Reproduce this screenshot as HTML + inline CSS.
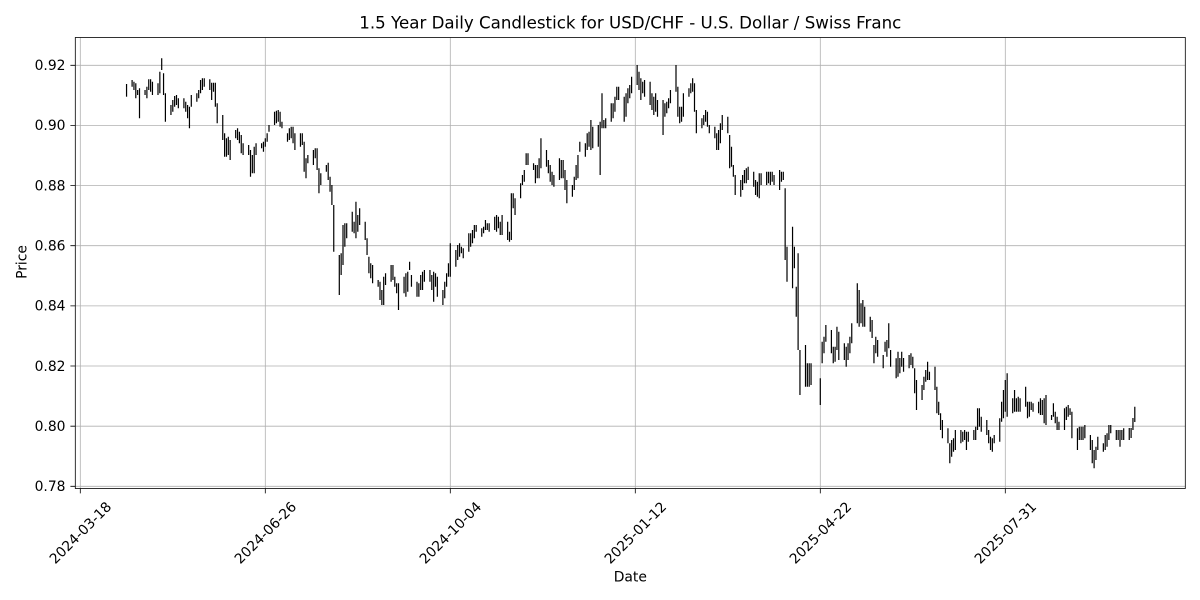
<!DOCTYPE html>
<html><head><meta charset="utf-8"><style>
html,body{margin:0;padding:0;background:#fff;}
svg{display:block;}
text{font-family:"DejaVu Sans","Liberation Sans",sans-serif;fill:#000;}
</style></head><body>
<svg width="1200" height="600" viewBox="0 0 1200 600" xmlns="http://www.w3.org/2000/svg">
<rect x="0" y="0" width="1200" height="600" fill="#fff"/>
<g stroke="#b0b0b0" stroke-width="0.8" fill="none">
<path d="M80.3 37.5V488.5M265.3 37.5V488.5M450.3 37.5V488.5M635.3 37.5V488.5M820.3 37.5V488.5M1005.3 37.5V488.5"/>
<path d="M75.3 486.3H1185.3M75.3 426.2H1185.3M75.3 366H1185.3M75.3 305.9H1185.3M75.3 245.7H1185.3M75.3 185.6H1185.3M75.3 125.4H1185.3M75.3 65.3H1185.3"/>
</g>
<g stroke="#000" stroke-width="1.2" fill="none">
<path transform="translate(119.15 0)" d="M7.4 84V96.7"/>
<path transform="translate(132.1 0)" d="M0 80V86.7M1.85 81.7V90M3.7 83.3V98.3M5.55 90V95M7.4 88.3V118.3"/>
<path transform="translate(145.05 0)" d="M0 90V95M1.85 86.7V98.3M3.7 79.3V90M5.55 79.3V91.7M7.4 81.7V95"/>
<path transform="translate(158 0)" d="M0 83.3V95M1.85 71.7V93.3M3.7 58.3V70M5.55 73.3V95M7.4 93.3V121.7"/>
<path transform="translate(170.95 0)" d="M0 105V115M1.85 100V111.7M3.7 96V106.7M5.55 95V105M7.4 98.3V108.3"/>
<path transform="translate(183.9 0)" d="M0 98.3V108.3M1.85 101.7V111.7M3.7 105V118.3M5.55 106.7V128.3M7.4 95V106.7"/>
<path transform="translate(196.85 0)" d="M0 93.3V101.7M1.85 90V98.3M3.7 80V93.3M5.55 78.3V90M7.4 78.3V86.7"/>
<path transform="translate(209.8 0)" d="M0 79.3V90M1.85 82.7V100M3.7 82.7V91.7M5.55 82.7V106.7M7.4 103.3V123.3"/>
<path transform="translate(222.75 0)" d="M0 115V140M1.85 133.3V156.7M3.7 138.3V156.7M5.55 136.7V155M7.4 140V160"/>
<path transform="translate(235.7 0)" d="M0 130V138.3M1.85 128.3V140M3.7 131.7V143.3M5.55 135V153.3M7.4 143.3V155"/>
<path transform="translate(248.65 0)" d="M0 145V155M1.85 150V176.7M3.7 155V173.3M5.55 146.7V173.3M7.4 143.3V155"/>
<path transform="translate(261.6 0)" d="M0 143.3V148.3M1.85 141.7V151.7M3.7 138.3V146.7M5.55 133.3V141.7M7.4 125V131.7"/>
<path transform="translate(274.55 0)" d="M0 111.7V125M1.85 110.7V123.3M3.7 110V121.7M5.55 111.7V126.7M7.4 121.7V128.3"/>
<path transform="translate(287.5 0)" d="M0 133.3V141.7M1.85 128.3V140M3.7 126.7V138.3M5.55 126.7V143.3M7.4 133.3V150"/>
<path transform="translate(300.45 0)" d="M0 133.3V146.7M1.85 133.3V145M3.7 141.7V171.7M5.55 158.3V178.3M7.4 155V163.3"/>
<path transform="translate(313.4 0)" d="M0 150V165M1.85 148.3V158.3M3.7 148.3V170M5.55 168.3V193.3M7.4 173.3V185"/>
<path transform="translate(326.35 0)" d="M0 165V171.7M1.85 162.7V180M3.7 176.7V191.7M5.55 185V205M7.4 205V251.7"/>
<path transform="translate(339.3 0)" d="M0 255V295M1.85 253.3V275M3.7 225V265M5.55 223.3V246.7M7.4 223.3V238.3"/>
<path transform="translate(352.25 0)" d="M0 211.7V231.7M1.85 221.7V233.3M3.7 201.7V238.3M5.55 215V231.7M7.4 208.3V225"/>
<path transform="translate(365.2 0)" d="M0 221.7V240M1.85 238.3V255M3.7 256.7V273.3M5.55 263.3V278.3M7.4 265V283.3"/>
<path transform="translate(378.15 0)" d="M0 280V286.7M1.85 281.7V300M3.7 290V305M5.55 276.7V305M7.4 273.3V285"/>
<path transform="translate(391.1 0)" d="M0 265V281.7M1.85 265V280M3.7 276.7V286.7M5.55 283.3V293.3M7.4 283.3V310"/>
<path transform="translate(404.05 0)" d="M0 276.7V293.3M1.85 273.3V296.7M3.7 271.7V291.7M5.55 261.7V270M7.4 275V286.7"/>
<path transform="translate(417 0)" d="M0 281.7V296.7M1.85 283.3V296.7M3.7 275V290M5.55 271.7V290M7.4 270V281.7"/>
<path transform="translate(429.95 0)" d="M0 270V281.7M1.85 275V290M3.7 271.7V301.7M5.55 273.3V286.7M7.4 276.7V296.7"/>
<path transform="translate(442.9 0)" d="M0 290V305M1.85 281.7V298.3M3.7 273.3V286.7M5.55 263.3V276.7M7.4 243.3V276.7"/>
<path transform="translate(455.85 0)" d="M0 250V266.7M1.85 245V260M3.7 243.3V256.7M5.55 246.7V253.3M7.4 248.3V258.3"/>
<path transform="translate(468.8 0)" d="M0 233.3V251.7M1.85 233.3V246.7M3.7 230V243.3M5.55 225V238.3M7.4 225V231.7"/>
<path transform="translate(481.75 0)" d="M0 228.3V236.7M1.85 226.7V233.3M3.7 220V230M5.55 223.3V230M7.4 223.3V231.7"/>
<path transform="translate(494.7 0)" d="M0 216.7V230M1.85 215V231.7M3.7 216.7V228.3M5.55 221.7V235M7.4 215V235"/>
<path transform="translate(507.65 0)" d="M0 221.7V240M1.85 231.7V241.7M3.7 193.3V240M5.55 193.3V208.3M7.4 198.3V215"/>
<path transform="translate(520.6 0)" d="M0 183.3V198.3M1.85 175V185M3.7 170V181.7M5.55 153.3V165M7.4 153.3V165"/>
<path transform="translate(533.55 0)" d="M0 163.3V170M1.85 165V183.3M3.7 165V178.3M5.55 158.3V178.3M7.4 138.3V168.3"/>
<path transform="translate(546.5 0)" d="M0 150V166.7M1.85 160V173.3M3.7 165V181.7M5.55 171.7V185M7.4 175V186.7"/>
<path transform="translate(559.45 0)" d="M0 158.3V180M1.85 160V178.3M3.7 160V178.3M5.55 170V190M7.4 180V203.3"/>
<path transform="translate(572.4 0)" d="M0 185V196.7M1.85 176.7V190M3.7 165V180M5.55 155V178.3M7.4 141.7V151.7"/>
<path transform="translate(585.35 0)" d="M0 143.3V156.7M1.85 133.3V150M3.7 131.7V146.7M5.55 120V150M7.4 126.7V148.3"/>
<path transform="translate(598.3 0)" d="M0 125V146.7M1.85 121.7V175M3.7 93.3V128.3M5.55 120V128.3M7.4 118.3V128.3"/>
<path transform="translate(611.25 0)" d="M0 103.3V121.7M1.85 103.3V118.3M3.7 96.7V111.7M5.55 86.7V100M7.4 86.7V100"/>
<path transform="translate(624.2 0)" d="M0 96.7V121.7M1.85 93.3V116.7M3.7 88.3V103.3M5.55 85V98.3M7.4 76.7V93.3"/>
<path transform="translate(637.15 0)" d="M0 65V85M1.85 71.7V90M3.7 78.3V100M5.55 81.7V93.3M7.4 80V96.7"/>
<path transform="translate(650.1 0)" d="M0 81.7V105M1.85 93.3V110M3.7 96.7V115M5.55 93.3V111.7M7.4 100V116.7"/>
<path transform="translate(663.05 0)" d="M0 100V135M1.85 103.3V116.7M3.7 101.7V113.3M5.55 98.3V108.3M7.4 90V103.3"/>
<path transform="translate(676 0)" d="M0 65V91.7M1.85 86.7V116.7M3.7 106.7V123.3M5.55 106.7V121.7M7.4 93.3V116.7"/>
<path transform="translate(688.95 0)" d="M0 88.3V96.7M1.85 83.3V93.3M3.7 78.3V91.7M5.55 83.3V111.7M7.4 110V133.3"/>
<path transform="translate(701.9 0)" d="M0 118.3V128.3M1.85 115V125M3.7 110V121.7M5.55 111.7V126.7M7.4 125V133.3"/>
<path transform="translate(714.85 0)" d="M0 126.7V138.3M1.85 133.3V150M3.7 130V150M5.55 123.3V143.3M7.4 115V130"/>
<path transform="translate(727.8 0)" d="M0 116.7V133.3M1.85 135V168.3M3.7 146.7V166.7M5.55 165V176.7M7.4 175V195"/>
<path transform="translate(740.75 0)" d="M0 180V196.7M1.85 175V190M3.7 170V183.3M5.55 168.3V183.3M7.4 166.7V180"/>
<path transform="translate(753.7 0)" d="M0 171.7V186.7M1.85 180V195M3.7 181.7V196.7M5.55 173.3V198.3M7.4 173.3V185"/>
<path transform="translate(766.65 0)" d="M0 171.7V185M1.85 171.7V183.3M3.7 171.7V185M5.55 171.7V181.7M7.4 175V185"/>
<path transform="translate(779.6 0)" d="M0 170V190M1.85 171.7V181.7M3.7 171.7V180M5.55 188.3V260M7.4 246.7V281.7"/>
<path transform="translate(792.55 0)" d="M0 226.7V288.3M1.85 246.7V268.3M3.7 286.7V316.7M5.55 253.3V350M7.4 350V395"/>
<path transform="translate(805.5 0)" d="M0 345V386.7M1.85 363.3V386.7M3.7 363.3V386.7M5.55 363.3V385"/>
<path transform="translate(818.45 0)" d="M1.85 378.3V405M3.7 341.7V363.3M5.55 336.7V353.3M7.4 325V341.7"/>
<path transform="translate(831.4 0)" d="M0 330V353.3M1.85 346.7V363.3M3.7 346.7V361.7M5.55 326.7V350M7.4 331.7V360"/>
<path transform="translate(844.35 0)" d="M0 343.3V360M1.85 346.7V366.7M3.7 343.3V360M5.55 336.7V353.3M7.4 323.3V343.3"/>
<path transform="translate(857.3 0)" d="M0 283.3V323.3M1.85 290V326.7M3.7 303.3V323.3M5.55 300V326.7M7.4 306.7V326.7"/>
<path transform="translate(870.25 0)" d="M0 316.7V331.7M1.85 320V338M3.7 345V363.3M5.55 336.7V353.3M7.4 340V356.7"/>
<path transform="translate(883.2 0)" d="M0 355V368.3M1.85 341.7V351.7M3.7 340V356.7M5.55 323.3V348.3M7.4 350V366.7"/>
<path transform="translate(896.15 0)" d="M0 358.3V378.3M1.85 351.7V376.7M3.7 358V373.3M5.55 351.7V366.7M7.4 358V371.7"/>
<path transform="translate(909.1 0)" d="M0 355V368.3M1.85 353.3V365M3.7 356.7V368.3M5.55 368.3V393.3M7.4 380V410"/>
<path transform="translate(922.05 0)" d="M0 385V400M1.85 376.7V390M3.7 370V381.7M5.55 361.7V380M7.4 371.7V380"/>
<path transform="translate(935 0)" d="M0 366.7V390M1.85 386.7V413.3M3.7 401.7V415M5.55 413.3V430M7.4 420V438.3"/>
<path transform="translate(947.95 0)" d="M0 428.3V443.3M1.85 443.3V463.3M3.7 440V456.7M5.55 438.3V451.7M7.4 430V450"/>
<path transform="translate(960.9 0)" d="M0 430V443.3M1.85 431.7V441.7M3.7 430V440M5.55 431.7V450M7.4 431.7V441.7"/>
<path transform="translate(973.85 0)" d="M0 430V440M1.85 426.7V440M3.7 408.3V430M5.55 408.3V426.7M7.4 416.7V431.7"/>
<path transform="translate(986.8 0)" d="M0 420V435M1.85 430V443.3M3.7 436.7V450M5.55 438.3V451.7M7.4 435V443.3"/>
<path transform="translate(999.75 0)" d="M0 418.3V441.7M1.85 401.7V421.7M3.7 390V418.3M5.55 380V411.7M7.4 373.3V416.7"/>
<path transform="translate(1012.7 0)" d="M0 398.3V413.3M1.85 390V411.7M3.7 398.3V411.7M5.55 396.7V411.7M7.4 398.3V411.7"/>
<path transform="translate(1025.65 0)" d="M0 386.7V406.7M1.85 401.7V418.3M3.7 401.7V416.7M5.55 401.7V410M7.4 403.3V411.7"/>
<path transform="translate(1038.6 0)" d="M0 401.7V413.3M1.85 398.3V415M3.7 400V415M5.55 398.3V423.3M7.4 395V425"/>
<path transform="translate(1051.55 0)" d="M0 415V420M1.85 403.3V416.7M3.7 411.7V423.3M5.55 416.7V430M7.4 421.7V430"/>
<path transform="translate(1064.5 0)" d="M0 408.3V430M1.85 406.7V420M3.7 405V416.7M5.55 408.3V415M7.4 411.7V438.3"/>
<path transform="translate(1077.45 0)" d="M0 428.3V450M1.85 426.7V440M3.7 426.7V440M5.55 426.7V440M7.4 425V438.3"/>
<path transform="translate(1090.4 0)" d="M0 435V450M1.85 440V463.3M3.7 450V468.3M5.55 446.7V460M7.4 436.7V450"/>
<path transform="translate(1103.35 0)" d="M0 443.3V451.7M1.85 435V450M3.7 433.3V446.7M5.55 425V440M7.4 425V433.3"/>
<path transform="translate(1116.3 0)" d="M0 430V440M1.85 430V440M3.7 430V446.7M5.55 430V440M7.4 428.3V440"/>
<path transform="translate(1129.25 0)" d="M0 428V440M1.85 428V438M3.7 418V430M5.55 406.7V422"/>
</g>
<rect x="75.3" y="37.5" width="1110" height="451" fill="none" stroke="#000" stroke-width="0.8"/>
<g stroke="#000" stroke-width="0.8">
<path d="M80.3 488.5V493.4M265.3 488.5V493.4M450.3 488.5V493.4M635.3 488.5V493.4M820.3 488.5V493.4M1005.3 488.5V493.4"/>
<path d="M75.3 486.3H70.4M75.3 426.2H70.4M75.3 366H70.4M75.3 305.9H70.4M75.3 245.7H70.4M75.3 185.6H70.4M75.3 125.4H70.4M75.3 65.3H70.4"/>
</g>
<g font-size="13.89" text-anchor="end">
<text x="65.5" y="491.1">0.78</text>
<text x="65.5" y="431">0.80</text>
<text x="65.5" y="370.8">0.82</text>
<text x="65.5" y="310.7">0.84</text>
<text x="65.5" y="250.5">0.86</text>
<text x="65.5" y="190.4">0.88</text>
<text x="65.5" y="130.2">0.90</text>
<text x="65.5" y="70.1">0.92</text>
</g>
<g font-size="13.89" text-anchor="middle">
<text dy="0.35em" transform="translate(80.3 532.7) rotate(-45)">2024-03-18</text>
<text dy="0.35em" transform="translate(265.3 532.7) rotate(-45)">2024-06-26</text>
<text dy="0.35em" transform="translate(450.3 532.7) rotate(-45)">2024-10-04</text>
<text dy="0.35em" transform="translate(635.3 532.7) rotate(-45)">2025-01-12</text>
<text dy="0.35em" transform="translate(820.3 532.7) rotate(-45)">2025-04-22</text>
<text dy="0.35em" transform="translate(1005.3 532.7) rotate(-45)">2025-07-31</text>
</g>
<text x="630.3" y="581.5" font-size="13.89" text-anchor="middle">Date</text>
<text transform="translate(26.7 262) rotate(-90)" font-size="13.89" text-anchor="middle">Price</text>
<text x="630.3" y="28.5" font-size="16.67" text-anchor="middle">1.5 Year Daily Candlestick for USD/CHF - U.S. Dollar / Swiss Franc</text>
</svg>
</body></html>
